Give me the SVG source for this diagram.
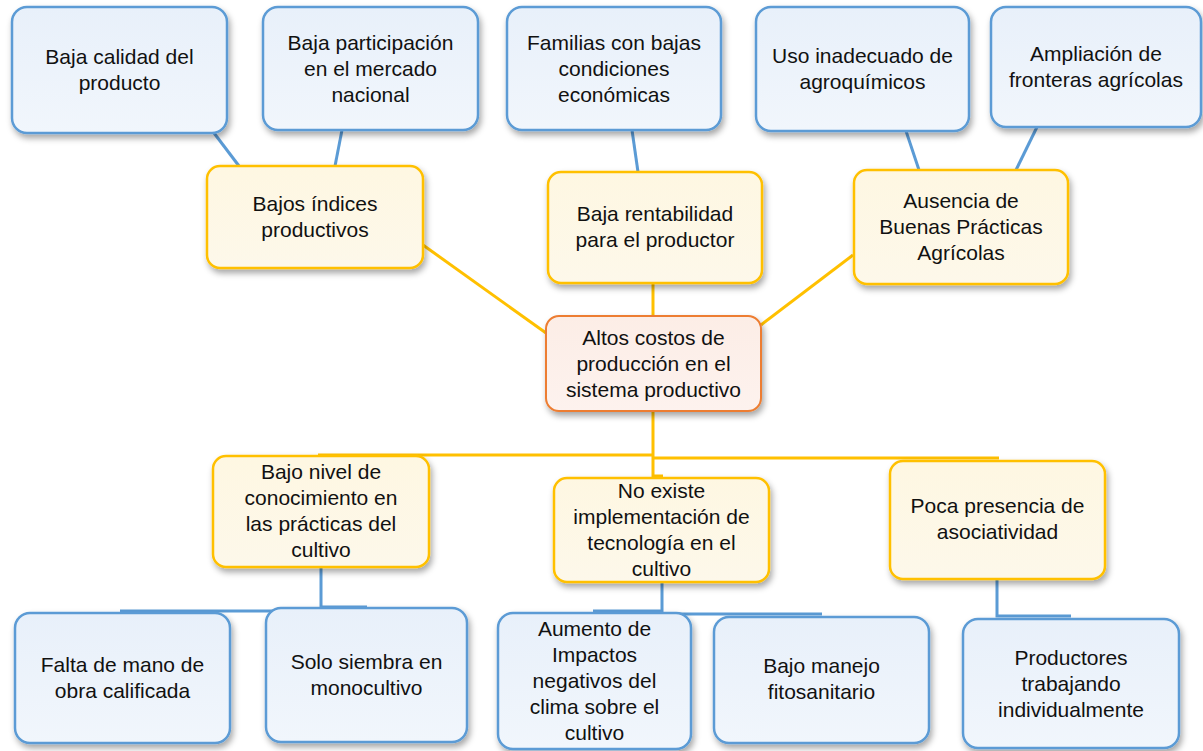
<svg xmlns="http://www.w3.org/2000/svg" width="1203" height="751" viewBox="0 0 1203 751">
<style>
  text { font-family: "Liberation Sans", Arial, sans-serif; font-size: 21px; fill: #111; text-anchor: middle; }
  .blue { fill: url(#gBlue); stroke: #5B9BD5; stroke-width: 2.5; filter: url(#sh); }
  .yel { fill: url(#gYel); stroke: #FFC000; stroke-width: 2.5; filter: url(#sh); }
  .ora { fill: url(#gOra); stroke: #ED7D31; stroke-width: 2; filter: url(#sh); }
  .cb { stroke: #5B9BD5; stroke-width: 3; fill: none; }
  .cy { stroke: #FFC000; stroke-width: 3; fill: none; }
</style>
<defs>
  <filter id="sh" x="-10%" y="-10%" width="125%" height="130%">
    <feDropShadow dx="2" dy="4" stdDeviation="3" flood-color="#000" flood-opacity="0.35"/>
  </filter>
  <linearGradient id="gBlue" x1="0" y1="0" x2="0" y2="1">
    <stop offset="0" stop-color="#E8F0FA"/>
    <stop offset="1" stop-color="#F1F6FC"/>
  </linearGradient>
  <linearGradient id="gYel" x1="0" y1="0" x2="0" y2="1">
    <stop offset="0" stop-color="#FEF7E2"/>
    <stop offset="1" stop-color="#FDF8EA"/>
  </linearGradient>
  <linearGradient id="gOra" x1="0" y1="0" x2="0" y2="1">
    <stop offset="0" stop-color="#FCEDE6"/>
    <stop offset="1" stop-color="#FDF2EE"/>
  </linearGradient>
</defs>
<rect width="1203" height="751" fill="#fff"/>

<g id="connectors">
  <line class="cb" x1="214" y1="133" x2="239" y2="166"/>
  <line class="cb" x1="342" y1="130" x2="335" y2="166"/>
  <line class="cb" x1="632" y1="130" x2="638" y2="172"/>
  <line class="cb" x1="906" y1="131" x2="919" y2="170"/>
  <line class="cb" x1="1037" y1="127" x2="1016" y2="170"/>
  <line class="cy" x1="423" y1="245" x2="546" y2="333"/>
  <line class="cy" x1="653" y1="283" x2="653" y2="316"/>
  <line class="cy" x1="853" y1="255" x2="761" y2="325"/>
  <polyline class="cy" points="653,411 653,476 663,476"/>
  <line class="cy" x1="318" y1="455" x2="653" y2="455"/>
  <line class="cy" x1="653" y1="458" x2="999" y2="458"/>
  <polyline class="cb" points="321,567 321,607 367,607"/>
  <line class="cb" x1="120" y1="611" x2="321" y2="611"/>
  <polyline class="cb" points="662,582 662,614 822,614"/>
  <line class="cb" x1="593" y1="611" x2="662" y2="611"/>
  <polyline class="cb" points="997,579 997,616 1071,616"/>
</g>

<g id="n1"><rect class="blue" x="12" y="7" width="215" height="126" rx="15"/>
  <text x="119.5" y="64">Baja calidad del</text><text x="119.5" y="90">producto</text></g>
<g id="n2"><rect class="blue" x="263" y="7" width="215" height="123" rx="15"/>
  <text x="370.5" y="50">Baja participación</text><text x="370.5" y="76">en el mercado</text><text x="370.5" y="102">nacional</text></g>
<g id="n3"><rect class="blue" x="507" y="7" width="214" height="123" rx="15"/>
  <text x="614" y="50">Familias con bajas</text><text x="614" y="76">condiciones</text><text x="614" y="102">económicas</text></g>
<g id="n4"><rect class="blue" x="756" y="7" width="213" height="124" rx="15"/>
  <text x="862.5" y="63">Uso inadecuado de</text><text x="862.5" y="89">agroquímicos</text></g>
<g id="n5"><rect class="blue" x="991" y="7" width="210" height="120" rx="15"/>
  <text x="1096" y="61">Ampliación de</text><text x="1096" y="87">fronteras agrícolas</text></g>

<g id="n6"><rect class="yel" x="207" y="166" width="216" height="102" rx="13"/>
  <text x="315" y="211">Bajos índices</text><text x="315" y="237">productivos</text></g>
<g id="n7"><rect class="yel" x="548" y="172" width="214" height="111" rx="13"/>
  <text x="655" y="221">Baja rentabilidad</text><text x="655" y="247">para el productor</text></g>
<g id="n8"><rect class="yel" x="854" y="170" width="214" height="114" rx="13"/>
  <text x="961" y="208">Ausencia de</text><text x="961" y="234">Buenas Prácticas</text><text x="961" y="260">Agrícolas</text></g>

<g id="n9"><rect class="ora" x="546" y="316" width="215" height="95" rx="13"/>
  <text x="653.5" y="345">Altos costos de</text><text x="653.5" y="371">producción en el</text><text x="653.5" y="397">sistema productivo</text></g>

<g id="n10"><rect class="yel" x="213" y="456" width="216" height="111" rx="13"/>
  <text x="321" y="479">Bajo nivel de</text><text x="321" y="505">conocimiento en</text><text x="321" y="531">las prácticas del</text><text x="321" y="557">cultivo</text></g>
<g id="n11"><rect class="yel" x="554" y="478" width="215" height="104" rx="13"/>
  <text x="661.5" y="498">No existe</text><text x="661.5" y="524">implementación de</text><text x="661.5" y="550">tecnología en el</text><text x="661.5" y="576">cultivo</text></g>
<g id="n12"><rect class="yel" x="890" y="461" width="215" height="118" rx="13"/>
  <text x="997.5" y="513">Poca presencia de</text><text x="997.5" y="539">asociatividad</text></g>

<g id="n13"><rect class="blue" x="15" y="613" width="215" height="130" rx="15"/>
  <text x="122.5" y="672">Falta de mano de</text><text x="122.5" y="698">obra calificada</text></g>
<g id="n14"><rect class="blue" x="266" y="608" width="201" height="134" rx="15"/>
  <text x="366.5" y="669">Solo siembra en</text><text x="366.5" y="695">monocultivo</text></g>
<g id="n15"><rect class="blue" x="498" y="613" width="193" height="136" rx="15"/>
  <text x="594.5" y="636">Aumento de</text><text x="594.5" y="662">Impactos</text><text x="594.5" y="688">negativos del</text><text x="594.5" y="714">clima sobre el</text><text x="594.5" y="740">cultivo</text></g>
<g id="n16"><rect class="blue" x="714" y="617" width="215" height="126" rx="15"/>
  <text x="821.5" y="673">Bajo manejo</text><text x="821.5" y="699">fitosanitario</text></g>
<g id="n17"><rect class="blue" x="963" y="619" width="216" height="129" rx="15"/>
  <text x="1071" y="665">Productores</text><text x="1071" y="691">trabajando</text><text x="1071" y="717">individualmente</text></g>
</svg>
